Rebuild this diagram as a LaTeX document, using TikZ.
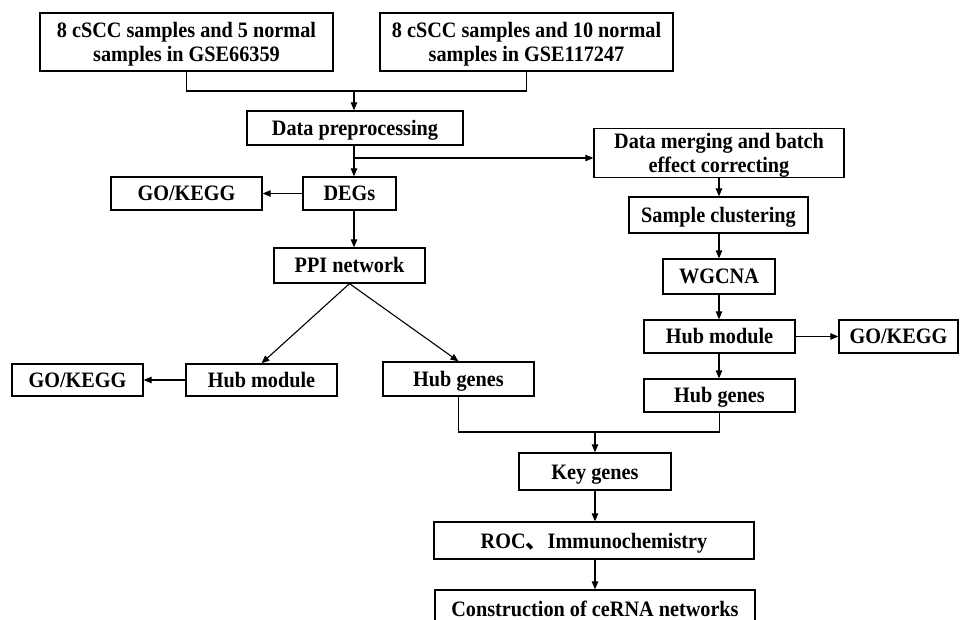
\documentclass[tikz,border=0pt]{standalone}
\usepackage{fontspec}
\setmainfont{Liberation Serif}[FakeStretch=0.92]
\newfontfamily\cjk{Noto Sans CJK SC}
\usetikzlibrary{arrows.meta}
\newcommand{\topstrut}{\rule{0pt}{20pt}}
\begin{document}
\begin{tikzpicture}[x=1pt,y=-1pt,
  box/.style={draw=black,line width=1.3pt,rectangle,inner sep=0pt,align=center,
    font=\fontsize{22}{24}\selectfont\bfseries},
  one/.style={box,text height=15pt,text depth=0pt},
  conn/.style={line width=1.1pt,draw=black},
  arr/.style={conn,-{Triangle[length=8pt,width=6.5pt]}}]
\useasboundingbox (0,0) rectangle (962,620);
\clip (0,0) rectangle (962,620);
\node[box,minimum width=293,minimum height=58] (b1) at (186.5,42) {\topstrut 8 cSCC samples and 5 normal\\samples in GSE66359};
\node[box,minimum width=293,minimum height=58] (b2) at (526.5,42) {\topstrut 8 cSCC samples and 10 normal\\samples in GSE117247};
\node[one,minimum width=216,minimum height=34] (dp) at (355,128) {Data preprocessing};
\node[one,minimum width=93,minimum height=33] (degs) at (349.5,193.5) {DEGs};
\node[one,minimum width=151,minimum height=33] (gk1) at (186.5,193.5) {GO/KEGG};
\node[box,minimum width=250,minimum height=48] (dm) at (719,153) {\topstrut Data merging and batch\\effect correcting};
\node[one,minimum width=179,minimum height=36] (sc) at (718.5,215) {Sample clustering};
\node[one,minimum width=151,minimum height=35] (ppi) at (349.5,265.5) {PPI network};
\node[one,minimum width=112,minimum height=35] (wg) at (719,276.5) {WGCNA};
\node[one,minimum width=151,minimum height=33] (hm2) at (719.5,336.5) {Hub module};
\node[one,minimum width=119,minimum height=33] (gk3) at (898.5,336.5) {GO/KEGG};
\node[one,minimum width=151,minimum height=32] (hm1) at (261.5,380) {Hub module};
\node[one,minimum width=131,minimum height=32] (gk2) at (77.5,380) {GO/KEGG};
\node[one,minimum width=151,minimum height=34] (hg1) at (458.5,379) {Hub genes};
\node[one,minimum width=151,minimum height=33] (hg2) at (719.5,395.5) {Hub genes};
\node[one,minimum width=152,minimum height=37] (kg) at (595,471.5) {Key genes};
\node[one,minimum width=320,minimum height=37] (roc) at (594,540.5) {ROC{\cjk 、}Immunochemistry};
\node[one,minimum width=320,minimum height=37] (cons) at (595,608.5) {Construction of ceRNA networks};
% top merge
\coordinate (m1) at (354,91);
\draw[conn] (b1.south) |- (m1) -| (b2.south);
\draw[arr] (m1) -- (m1 |- dp.north);
\coordinate (br) at (354,158);
\draw[arr] (br |- dp.south) -- (br |- degs.north);
\draw[arr] (br) -- (br -| dm.west);
\draw[arr] (degs.west) -- (gk1.east);
\draw[arr] (br |- degs.south) -- (br |- ppi.north);
\draw[arr] (ppi.south) -- (hm1.north);
\draw[arr] (ppi.south) -- (hg1.north);
\draw[arr] (hm1.west) -- (gk2.east);
% right column
\draw[arr] (dm.south) -- (dm.south |- sc.north);
\draw[arr] (dm.south |- sc.south) -- (dm.south |- wg.north);
\draw[arr] (dm.south |- wg.south) -- (dm.south |- hm2.north);
\draw[arr] (dm.south |- hm2.south) -- (dm.south |- hg2.north);
\draw[arr] (hm2.east) -- (gk3.west);
% bottom merge
\coordinate (m2) at (595,432);
\draw[conn] (hg1.south) |- (m2) -| (hg2.south);
\draw[arr] (m2) -- (kg.north);
\draw[arr] (kg.south) -- (kg.south |- roc.north);
\draw[arr] (kg.south |- roc.south) -- (kg.south |- cons.north);
\end{tikzpicture}
\end{document}
